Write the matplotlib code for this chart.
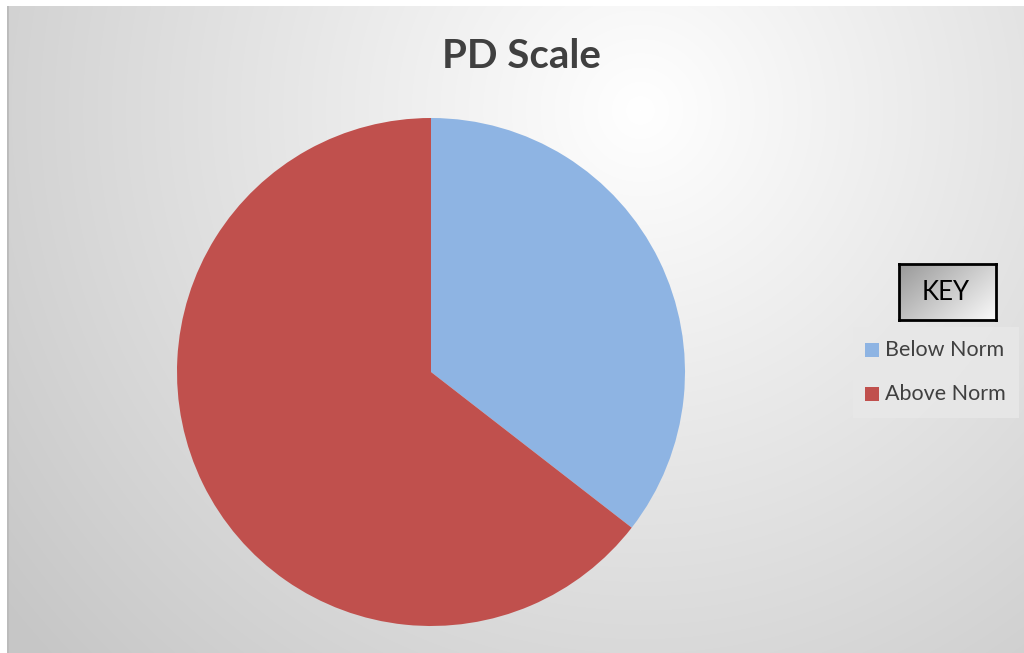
import matplotlib.pyplot as plt
import numpy as np

# data
labels = ["Below Norm", "Above Norm"]
values = [35.5, 64.5]
colors = ["#8EB4E3", "#C0504D"]
title = "PD Scale"

W, H = 1024, 653
fig = plt.figure(figsize=(W / 100, H / 100), dpi=100)
fig.patch.set_facecolor("white")

# background with radial gradient
bg = fig.add_axes([7 / W, 0, (W - 7) / W, (H - 6) / H])
yy, xx = np.mgrid[6:H, 7:W]
d = np.hypot(xx - 640, yy - 110)
g = np.clip(255 - 0.07 * d, 198, 255) / 255
bg.imshow(np.dstack([g, g, g]), aspect="auto", extent=[0, 1, 0, 1], interpolation="bilinear")
bg.set_xlim(0, 1)
bg.set_ylim(0, 1)
bg.axis("off")
bg.axvline(0.0, color="#BBBBBB", lw=2)

# pie
cx, cy, r = 431, 372, 254
ax = fig.add_axes([(cx - r) / W, (H - cy - r) / H, 2 * r / W, 2 * r / H])
ax.pie(values, colors=colors, startangle=90, counterclock=False, radius=1,
       wedgeprops=dict(linewidth=0))
ax.set_xlim(-1, 1)
ax.set_ylim(-1, 1)
ax.set_aspect("equal")
ax.axis("off")

fig.text(521 / W, 1 - 57 / H, title, ha="center", va="center", fontsize=29,
         fontweight="bold", color="#404040", family=["Lato", "DejaVu Sans"])

# KEY box
kx0, ky0, kx1, ky1 = 899, 264, 996, 320
kax = fig.add_axes([kx0 / W, 1 - ky1 / H, (kx1 - kx0) / W, (ky1 - ky0) / H])
gy, gx = np.mgrid[0:1:60j, 0:1:100j]
kg = 0.6 + 0.38 * (gx * 0.6 + gy * 0.4)
kax.imshow(np.dstack([kg, kg, kg]), aspect="auto", extent=[0, 1, 0, 1], origin="upper")
kax.set_xticks([])
kax.set_yticks([])
for s in kax.spines.values():
    s.set_linewidth(2)
    s.set_color("black")
kax.text(0.48, 0.5, "KEY", ha="center", va="center", fontsize=18.5, color="black",
         family=["Lato", "DejaVu Sans"], transform=kax.transAxes)

# legend box
lx0, ly0, lx1, ly1 = 853, 327, 1019, 418
fig.patches.append(plt.Rectangle((lx0 / W, 1 - ly1 / H), (lx1 - lx0) / W, (ly1 - ly0) / H,
                                 transform=fig.transFigure, facecolor="#E8E8E8",
                                 edgecolor="none", alpha=0.85, zorder=1))
for i, (lab, col) in enumerate(zip(labels, colors)):
    yc = 350 + i * 44
    fig.patches.append(plt.Rectangle((865 / W, 1 - (yc + 7) / H), 14 / W, 14 / H,
                                     transform=fig.transFigure, facecolor=col,
                                     edgecolor="none", zorder=2))
    fig.text(885 / W, 1 - yc / H, lab, ha="left", va="center", fontsize=15.5,
             color="#404040", family=["Lato", "DejaVu Sans"])

fig.savefig("out.png", dpi=100)
